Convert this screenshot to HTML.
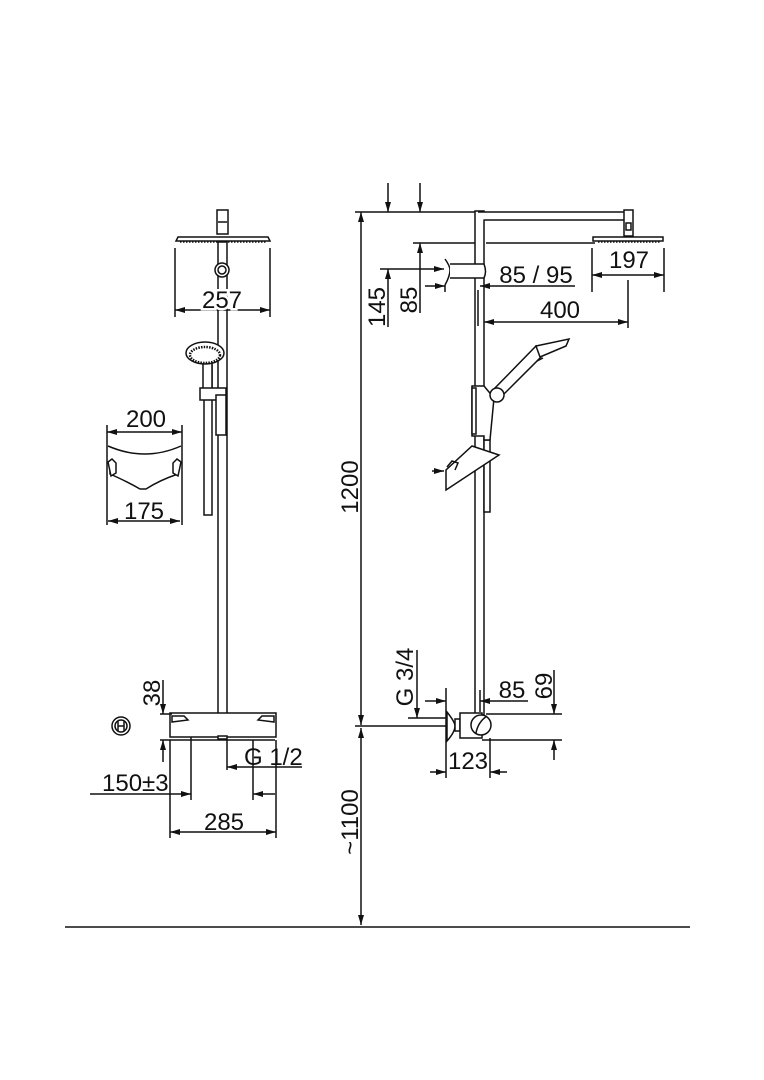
<!DOCTYPE html>
<html><head><meta charset="utf-8"><style>
html,body{margin:0;padding:0;background:#fff;}
svg{display:block;}
text{font-family:"Liberation Sans",sans-serif;font-size:24px;fill:#111;}
.w{stroke:#fff;stroke-width:5px;paint-order:stroke;}
</style></head><body>
<svg width="764" height="1080" viewBox="0 0 764 1080" xmlns="http://www.w3.org/2000/svg">
<defs>
<marker id="a" viewBox="0 0 10 6" refX="10" refY="3" markerWidth="11" markerHeight="6" orient="auto-start-reverse" markerUnits="userSpaceOnUse"><path d="M0,0L10,3L0,6z" fill="#111"/></marker>
</defs>
<g stroke="#111" stroke-width="1.5" fill="none">
<!-- LEFT VIEW -->
<rect x="217" y="210" width="11" height="24" fill="#fff"/>
<line x1="218" y1="222" x2="227" y2="222"/>
<path d="M176,241 L270,241 L268,237 L178,237 Z" fill="#fff"/>
<line x1="180" y1="242" x2="266" y2="242" stroke-dasharray="1.5,1.5"/>
<rect x="218" y="242" width="9" height="473" fill="#fff"/>
<circle cx="222" cy="270" r="7" fill="#fff"/><circle cx="222" cy="270" r="4"/>
<!-- 257 -->
<line x1="175" y1="248" x2="175" y2="317"/><line x1="270" y1="248" x2="270" y2="317"/>
<line x1="175" y1="310" x2="270" y2="310" marker-start="url(#a)" marker-end="url(#a)"/>
<!-- hand shower -->
<rect x="204" y="365" width="8" height="150" fill="#fff"/>
<rect x="203" y="360" width="9" height="32" fill="#fff"/>
<ellipse cx="205" cy="353" rx="19" ry="11" fill="#fff"/>
<ellipse cx="205" cy="355" rx="15" ry="8" stroke-dasharray="1.5,1.2" stroke-width="2.5"/>
<rect x="200" y="388" width="26" height="12" fill="#fff"/>
<rect x="216" y="395" width="10" height="40" fill="#fff"/>
<!-- shelf front -->
<line x1="107" y1="425" x2="107" y2="525"/><line x1="182" y1="425" x2="182" y2="525"/>
<line x1="107" y1="432" x2="182" y2="432" marker-start="url(#a)" marker-end="url(#a)"/>
<path d="M108,446 Q145,462 181,446" />
<path d="M110,462 L110,474 Q128,482 140,489 L146,489 Q160,480 178,474 L178,462" />
<path d="M108,462 l4,-3 l4,4 l0,10 l-5,3 z" fill="#fff"/>
<path d="M181,462 l-4,-3 l-4,4 l0,10 l5,3 z" fill="#fff"/>
<line x1="108" y1="521" x2="180" y2="521" marker-start="url(#a)" marker-end="url(#a)"/>
<!-- thermostat left -->
<rect x="170" y="713" width="106" height="24" fill="#fff"/>
<path d="M172,716 l12,0 l4,4 l-16,2z M274,716 l-12,0 l-4,4 l16,2z"/>
<rect x="218" y="736" width="9" height="3" fill="#fff"/>
<circle cx="121" cy="726" r="9"/><circle cx="121" cy="726" r="6"/>
<line x1="118" y1="721" x2="118" y2="731"/><line x1="124" y1="721" x2="124" y2="731"/><line x1="118" y1="726" x2="124" y2="726"/>
<!-- 38 -->
<line x1="160" y1="714" x2="172" y2="714"/><line x1="160" y1="740" x2="275" y2="740"/>
<line x1="163" y1="680" x2="163" y2="714" marker-end="url(#a)"/>
<line x1="163" y1="762" x2="163" y2="740" marker-end="url(#a)"/>
<!-- G1/2, 150, 285 -->
<line x1="227" y1="740" x2="227" y2="770"/>
<line x1="302" y1="767" x2="227" y2="767" marker-end="url(#a)"/>
<line x1="191" y1="737" x2="191" y2="800"/><line x1="253" y1="740" x2="253" y2="800"/>
<line x1="90" y1="794" x2="191" y2="794" marker-end="url(#a)"/>
<line x1="275" y1="794" x2="253" y2="794" marker-end="url(#a)"/>
<line x1="170" y1="740" x2="170" y2="838"/><line x1="276" y1="740" x2="276" y2="838"/>
<line x1="170" y1="832" x2="276" y2="832" marker-start="url(#a)" marker-end="url(#a)"/>

<!-- RIGHT VIEW -->
<line x1="355" y1="212" x2="476" y2="212"/>
<line x1="361" y1="212" x2="361" y2="725" marker-start="url(#a)" marker-end="url(#a)"/>
<line x1="355" y1="726" x2="448" y2="726"/>
<line x1="361" y1="728" x2="361" y2="925" marker-start="url(#a)" marker-end="url(#a)"/>
<line x1="65" y1="927" x2="690" y2="927"/>
<!-- 145 -->
<line x1="388" y1="183" x2="388" y2="212" marker-end="url(#a)"/>
<line x1="380" y1="269" x2="440" y2="269"/>
<line x1="388" y1="327" x2="388" y2="269" marker-end="url(#a)"/>
<!-- 85 -->
<line x1="420" y1="183" x2="420" y2="212" marker-end="url(#a)"/>
<line x1="413" y1="243" x2="476" y2="243"/><line x1="486" y1="243" x2="595" y2="243"/>
<line x1="420" y1="313" x2="420" y2="243" marker-end="url(#a)"/>
<!-- pole & arm -->
<rect x="475" y="211" width="9" height="504" fill="#fff"/>
<path d="M478,212 L627,212 L627,220 L484,220" fill="#fff"/>
<rect x="624" y="210" width="9" height="26" fill="#fff"/>
<rect x="626" y="223" width="5" height="7"/>
<path d="M593,237 L663,237 L663,241 L593,241 Z" fill="#fff"/>
<line x1="598" y1="242" x2="660" y2="242" stroke-dasharray="1.5,1.5"/>
<!-- 197 -->
<line x1="592" y1="248" x2="592" y2="292"/><line x1="664" y1="248" x2="664" y2="292"/>
<line x1="592" y1="275" x2="664" y2="275" marker-start="url(#a)" marker-end="url(#a)"/>
<!-- 400 -->
<line x1="628" y1="280" x2="628" y2="328"/>
<line x1="484" y1="322" x2="628" y2="322" marker-start="url(#a)" marker-end="url(#a)"/>
<line x1="478" y1="290" x2="478" y2="326"/>
<!-- bracket -->
<path d="M445,259 Q450,266 450,270 Q450,276 445,285" fill="#fff"/>
<path d="M450,264 L484,264 Q487,272 484,278 L450,278" fill="#fff"/>
<line x1="434" y1="269" x2="444" y2="269" marker-end="url(#a)"/>
<!-- 85/95 -->
<line x1="425" y1="286" x2="445" y2="286" marker-end="url(#a)"/>
<line x1="575" y1="286" x2="480" y2="286" marker-end="url(#a)"/>
<line x1="445" y1="285" x2="445" y2="292"/>
<!-- hand shower right -->
<rect x="484" y="440" width="6" height="72" fill="#fff"/>
<path d="M472,386 L484,386 L494,398 L490,440 L484,440 L484,436 L472,436 Z" fill="#fff"/>
<rect x="472" y="388" width="4" height="46" fill="#fff"/>
<path d="M494,389 L536,346 L542,356 L499,399" fill="#fff"/>
<path d="M536,346 L569,339 L566,346 L540,357 Z" fill="#fff"/>
<path d="M537,361 l6,-3"/>
<circle cx="497" cy="395" r="7" fill="#fff"/>
<path d="M472,446 L499,455 L446,490 L446,470 Z" fill="#fff"/>
<path d="M447,467 l5,-6 l6,2 l-3,7" />
<line x1="432" y1="471" x2="444" y2="471" marker-end="url(#a)"/>
<!-- thermostat right -->
<path d="M447,712 Q455,722 455,726 Q455,732 447,741 Z" fill="#fff"/>
<rect x="455" y="719" width="5" height="12" fill="#fff"/>
<rect x="460" y="713" width="22" height="25" fill="#fff"/>
<circle cx="481" cy="725" r="10" fill="#fff"/>
<path d="M476,733 Q478,722 487,716"/>
<!-- G 3/4 -->
<line x1="417" y1="650" x2="417" y2="718" marker-end="url(#a)"/>
<line x1="408" y1="718" x2="447" y2="718"/>
<!-- 85 -->
<line x1="446" y1="688" x2="446" y2="778"/>
<line x1="480" y1="690" x2="480" y2="712"/>
<line x1="425" y1="701" x2="446" y2="701" marker-end="url(#a)"/>
<line x1="528" y1="701" x2="480" y2="701" marker-end="url(#a)"/>
<!-- 69 -->
<line x1="486" y1="714" x2="562" y2="714"/><line x1="482" y1="740" x2="562" y2="740"/>
<line x1="554" y1="670" x2="554" y2="714" marker-end="url(#a)"/>
<line x1="554" y1="760" x2="554" y2="740" marker-end="url(#a)"/>
<!-- 123 -->
<line x1="490" y1="738" x2="490" y2="778"/>
<line x1="430" y1="772" x2="446" y2="772" marker-end="url(#a)"/>
<line x1="507" y1="772" x2="490" y2="772" marker-end="url(#a)"/>
</g>
<!-- text -->
<text class="w" x="222" y="308" text-anchor="middle">257</text>
<text x="146" y="427" text-anchor="middle">200</text>
<text x="144" y="519" text-anchor="middle">175</text>
<text transform="translate(160,693) rotate(-90)" text-anchor="middle">38</text>
<text x="244" y="765">G 1/2</text>
<text x="102" y="791">150±3</text>
<text x="224" y="830" text-anchor="middle">285</text>
<text transform="translate(358,487) rotate(-90)" text-anchor="middle">1200</text>
<text transform="translate(358,822) rotate(-90)" text-anchor="middle">~1100</text>
<text transform="translate(385,307) rotate(-90)" text-anchor="middle">145</text>
<text transform="translate(417,300) rotate(-90)" text-anchor="middle">85</text>
<text x="536" y="283" text-anchor="middle">85 / 95</text>
<text x="629" y="268" text-anchor="middle">197</text>
<text x="560" y="318" text-anchor="middle">400</text>
<text transform="translate(413,677) rotate(-90)" text-anchor="middle">G 3/4</text>
<text x="512" y="698" text-anchor="middle">85</text>
<text transform="translate(552,686) rotate(-90)" text-anchor="middle">69</text>
<text x="468" y="769" text-anchor="middle">123</text>
</svg>
</body></html>
